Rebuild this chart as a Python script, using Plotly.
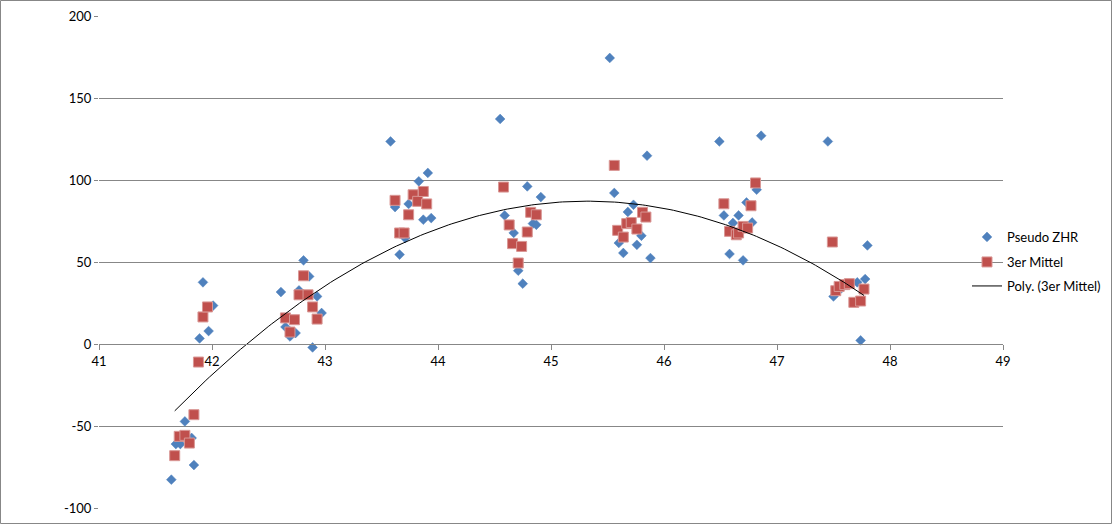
import numpy as np
import plotly.graph_objects as go

# Pseudo ZHR (blue diamonds)
zhr_x = [41.64, 41.68, 41.72, 41.76, 41.82, 41.84, 41.89, 41.92, 41.97, 42.01,
         42.61, 42.65, 42.69, 42.74, 42.77, 42.81, 42.86, 42.89, 42.93, 42.97,
         43.58, 43.62, 43.66, 43.71, 43.74, 43.83, 43.87, 43.91, 43.94,
         44.55, 44.59, 44.67, 44.71, 44.75, 44.79, 44.84, 44.87, 44.91,
         45.52, 45.56, 45.60, 45.64, 45.68, 45.73, 45.76, 45.80, 45.85, 45.88,
         46.49, 46.53, 46.58, 46.61, 46.66, 46.70, 46.73, 46.78, 46.82, 46.86,
         47.45, 47.50, 47.57, 47.62, 47.71, 47.74, 47.78, 47.80]
zhr_y = [-82.7, -61.0, -61.0, -47.2, -57.3, -73.8, 3.4, 37.6, 7.9, 23.4,
         31.7, 10.4, 4.6, 6.7, 32.7, 51.0, 41.2, -2.1, 29.0, 18.9,
         123.5, 83.5, 54.5, 64.6, 85.4, 99.2, 75.8, 104.3, 76.8,
         137.2, 78.4, 67.7, 44.7, 36.8, 96.1, 73.4, 72.7, 89.6,
         174.4, 92.1, 61.6, 55.5, 80.5, 84.9, 60.5, 66.0, 114.8, 52.4,
         123.5, 78.4, 54.9, 73.8, 78.4, 51.0, 86.3, 74.1, 94.1, 127.0,
         123.5, 29.0, 34.0, 36.0, 37.6, 2.2, 39.6, 60.1]

# 3er Mittel (red squares)
mit_x = [41.67, 41.71, 41.76, 41.80, 41.84, 41.88, 41.92, 41.96,
         42.65, 42.69, 42.73, 42.77, 42.81, 42.85, 42.89, 42.93,
         43.62, 43.66, 43.70, 43.74, 43.78, 43.82, 43.87, 43.90,
         44.58, 44.63, 44.66, 44.71, 44.74, 44.79, 44.82, 44.87,
         45.56, 45.59, 45.64, 45.67, 45.71, 45.76, 45.81, 45.84,
         46.53, 46.58, 46.64, 46.66, 46.70, 46.74, 46.77, 46.81,
         47.49, 47.52, 47.55, 47.60, 47.64, 47.68, 47.74, 47.77]
mit_y = [-68.1, -56.3, -55.7, -60.4, -43.1, -11.0, 16.5, 22.6,
         15.9, 7.3, 14.8, 30.0, 41.6, 30.0, 22.6, 15.2,
         87.6, 67.7, 67.7, 78.8, 91.0, 87.0, 93.0, 85.4,
         95.7, 72.6, 61.2, 49.4, 59.5, 68.3, 80.3, 78.8,
         108.9, 69.3, 65.2, 73.4, 74.1, 70.1, 80.3, 77.4,
         85.5, 68.7, 66.6, 67.7, 71.7, 70.7, 84.3, 98.2,
         62.2, 32.5, 35.1, 36.2, 36.8, 25.4, 26.2, 33.5]

x_ticks = [41, 42, 43, 44, 45, 46, 47, 48, 49]
y_ticks = [-100, -50, 0, 50, 100, 150, 200]

# Polynomial trendline (order 2) fitted to 3er Mittel
coef = np.polyfit(mit_x, mit_y, 2)
tx = np.linspace(min(mit_x), max(mit_x), 200)
ty = np.polyval(coef, tx)

FONT = "Lato, 'Open Sans', sans-serif"
GRID = "#878787"

fig = go.Figure()
fig.add_trace(go.Scatter(
    x=zhr_x, y=zhr_y, mode="markers", name="Pseudo ZHR",
    marker=dict(symbol="diamond", size=7.5, color="#4F81BD",
                line=dict(width=0.5, color="#4F81BD")),
    legend="legend"))
fig.add_trace(go.Scatter(
    x=mit_x, y=mit_y, mode="markers", name="3er Mittel",
    marker=dict(symbol="square", size=10, color="#C0504D",
                line=dict(width=1, color="#D99795")),
    legend="legend2"))
fig.add_trace(go.Scatter(
    x=tx, y=ty, mode="lines", name="Poly. (3er Mittel)",
    line=dict(color="black", width=1),
    legend="legend3"))

L, R, T, B = 99, 1003, 16, 508
W, H = 1113, 525
pw, ph = R - L, B - T

def legend_at(ypx):
    return dict(x=967 / W, xref="container", xanchor="left",
                y=1 - ypx / H, yref="container", yanchor="middle",
                bgcolor="rgba(0,0,0,0)", borderwidth=0,
                font=dict(family=FONT, size=13, color="black"),
                itemwidth=30)

fig.update_layout(
    width=W, height=H,
    margin=dict(l=L, r=W - R, t=T, b=H - B, autoexpand=False),
    paper_bgcolor="white", plot_bgcolor="white",
    font=dict(family=FONT, size=13, color="black"),
    showlegend=True,
    legend=legend_at(237),
    legend2=legend_at(262),
    legend3=legend_at(286),
    xaxis=dict(range=[41, 49], tickvals=x_ticks, ticktext=[str(v) for v in x_ticks],
               showgrid=False, zeroline=False,
               showline=True, linecolor=GRID, linewidth=1,
               ticks="outside", ticklen=5, tickcolor=GRID,
               anchor="free", position=1 / 3,
               tickfont=dict(family=FONT, size=13, color="black")),
    yaxis=dict(range=[-100, 200], tickvals=y_ticks, ticktext=[str(v) for v in y_ticks],
               showgrid=True, gridcolor=GRID,
               gridwidth=1, zeroline=False, showline=False,
               ticks="outside", ticklen=4, tickcolor=GRID,
               tickfont=dict(family=FONT, size=13, color="black")),
)

# outer chart border
fig.add_shape(type="rect", xref="paper", yref="paper",
              x0=(0.5 - L) / pw, x1=(W - 1.5 - L) / pw,
              y0=(B - (H - 1.5)) / ph, y1=(B - 0.5) / ph,
              line=dict(color=GRID, width=1), fillcolor="rgba(0,0,0,0)",
              layer="below")

fig.write_html("out.html")
